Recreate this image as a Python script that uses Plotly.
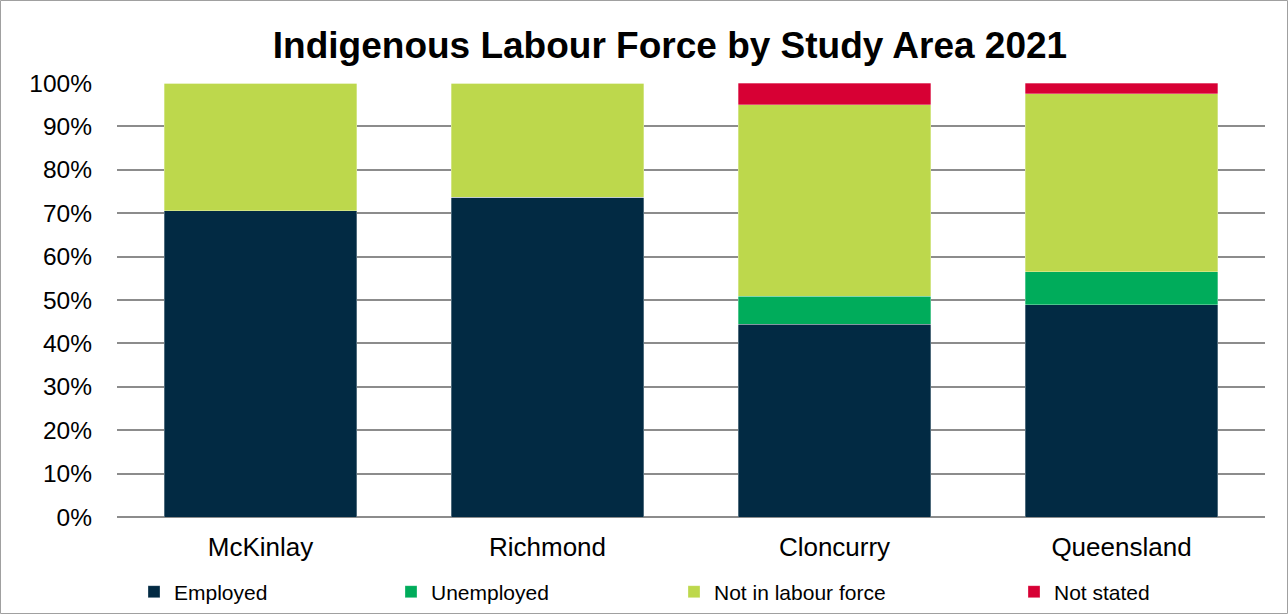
import plotly.graph_objects as go

categories = ["McKinlay", "Richmond", "Cloncurry", "Queensland"]
employed = [70.6, 73.7, 44.4, 48.9]
unemployed = [0.0, 0.0, 6.5, 7.6]
not_in_lf = [29.4, 26.3, 44.1, 41.0]
not_stated = [0.0, 0.0, 5.0, 2.5]
tick_vals = [0, 10, 20, 30, 40, 50, 60, 70, 80, 90, 100]
tick_text = [f"{v}%" for v in tick_vals]

series = [
    ("Employed", employed, "#022A43"),
    ("Unemployed", unemployed, "#00AC5B"),
    ("Not in labour force", not_in_lf, "#BDD84C"),
    ("Not stated", not_stated, "#D70034"),
]

W, H = 1288, 614
ml, mr, mt, mb = 117, 23, 83, 97
pw, ph = W - ml - mr, H - mt - mb

legend_x_px = [134, 391, 674, 1014]
legend_y_px = 592

fig = go.Figure()
for i, (name, vals, col) in enumerate(series):
    lg = "legend" if i == 0 else f"legend{i+1}"
    fig.add_trace(go.Bar(
        x=categories, y=vals, name=name,
        marker=dict(color=col, line=dict(color="rgba(255,255,255,0.6)", width=0.5)),
        legend=lg,
    ))

font_family = "Liberation Sans, Arial, sans-serif"
layout_legends = {}
for i, px in enumerate(legend_x_px):
    key = "legend" if i == 0 else f"legend{i+1}"
    layout_legends[key] = dict(
        x=px / W, y=1 - legend_y_px / H, xref="container", yref="container",
        xanchor="left", yanchor="middle",
        orientation="h", bgcolor="rgba(0,0,0,0)",
        font=dict(family=font_family, size=21, color="#000"),
        itemwidth=30, tracegroupgap=0,
    )

fig.update_layout(
    width=W, height=H,
    margin=dict(l=ml, r=mr, t=mt, b=mb, autoexpand=False),
    barmode="stack", bargap=0.33,
    paper_bgcolor="white", plot_bgcolor="white",
    title=dict(text="<b>Indigenous Labour Force by Study Area 2021</b>",
               x=(670) / W, xanchor="center", y=1 - 45 / H, yanchor="middle",
               font=dict(family=font_family, size=37, color="#000")),
    font=dict(family=font_family, color="#000"),
    xaxis=dict(tickfont=dict(size=26), showline=False, showgrid=False,
               ticks="", ticklabelstandoff=12),
    yaxis=dict(range=[0, 100], tickvals=tick_vals, ticktext=tick_text,
               tickfont=dict(size=24.5), showgrid=True, gridcolor="#8C8C8C",
               gridwidth=1.5, zeroline=True, zerolinecolor="#8C8C8C",
               zerolinewidth=1.5, ticks="", ticklabelstandoff=24),
    showlegend=True,
    **layout_legends,
)

# outer chart border
fig.add_shape(type="rect", xref="paper", yref="paper",
              x0=(0.5 - ml) / pw, x1=(W - 0.5 - ml) / pw,
              y0=(H - mb - (H - 0.5)) / ph, y1=(H - mb - 0.5) / ph,
              line=dict(color="#A0A0A0", width=1), fillcolor="rgba(0,0,0,0)",
              layer="above")

fig.write_html("out.html")
